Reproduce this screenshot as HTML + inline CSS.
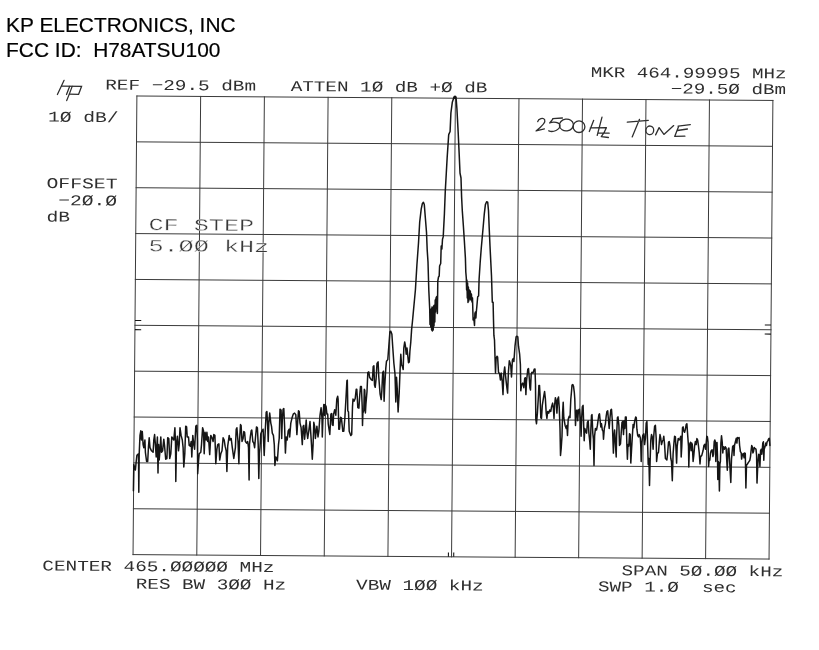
<!DOCTYPE html>
<html><head><meta charset="utf-8"><title>Spectrum plot</title>
<style>
html,body{margin:0;padding:0;background:#fff;}
body{width:819px;height:650px;position:relative;overflow:hidden;font-family:"Liberation Sans",sans-serif;}
.hd{position:absolute;left:6.1px;font-size:20.9px;line-height:25px;color:#000;white-space:pre;-webkit-text-stroke:0.2px #000}
</style></head><body>
<div id="w" style="position:absolute;left:0;top:0;width:819px;height:650px;filter:grayscale(1)">
<div class="hd" style="top:11.6px">KP ELECTRONICS, INC</div>
<div class="hd" style="top:36.7px">FCC ID:  H78ATSU100</div>
<svg width="819" height="650" viewBox="0 0 819 650" style="position:absolute;left:0;top:0">
<g stroke="#3a3a3a" stroke-width="1" fill="none" stroke-linecap="square">
<line x1="136.90" y1="96.00" x2="133.05" y2="554.60"/>
<line x1="136.90" y1="96.00" x2="772.90" y2="100.45"/>
<line x1="200.65" y1="96.44" x2="196.80" y2="555.05"/>
<line x1="136.52" y1="141.86" x2="772.51" y2="146.31"/>
<line x1="264.39" y1="96.89" x2="260.54" y2="555.49"/>
<line x1="136.13" y1="187.72" x2="772.13" y2="192.17"/>
<line x1="328.10" y1="97.33" x2="324.25" y2="555.94"/>
<line x1="135.75" y1="233.58" x2="771.75" y2="238.03"/>
<line x1="391.78" y1="97.78" x2="387.93" y2="556.38"/>
<line x1="135.36" y1="279.44" x2="771.36" y2="283.89"/>
<line x1="455.40" y1="98.22" x2="451.55" y2="556.83"/>
<line x1="134.97" y1="325.30" x2="770.98" y2="329.75"/>
<line x1="518.98" y1="98.67" x2="515.13" y2="557.27"/>
<line x1="134.59" y1="371.16" x2="770.59" y2="375.61"/>
<line x1="582.50" y1="99.11" x2="578.65" y2="557.72"/>
<line x1="134.21" y1="417.02" x2="770.20" y2="421.47"/>
<line x1="645.99" y1="99.56" x2="642.14" y2="558.16"/>
<line x1="133.82" y1="462.88" x2="769.82" y2="467.33"/>
<line x1="709.45" y1="100.00" x2="705.60" y2="558.61"/>
<line x1="133.44" y1="508.74" x2="769.43" y2="513.19"/>
<line x1="772.90" y1="100.45" x2="769.05" y2="559.05"/>
<line x1="133.05" y1="554.60" x2="769.05" y2="559.05"/>
</g>
<g stroke="#151515" stroke-width="1.1" fill="none">
<line x1="135.02" y1="320.53" x2="141.26" y2="320.57"/>
<line x1="771.02" y1="324.98" x2="764.80" y2="324.94"/>
<line x1="134.94" y1="329.66" x2="141.19" y2="329.70"/>
<line x1="770.94" y1="334.11" x2="764.72" y2="334.06"/>
<line x1="448.40" y1="556.80" x2="448.44" y2="552.45"/>
<line x1="453.71" y1="556.84" x2="453.75" y2="552.48"/>
</g>
<path d="M133.4,490.8 L133.8,464.6 L135.4,470.0 L136.2,461.5 L136.9,455.4 L138.5,453.8 L138.8,492.3 L139.2,453.8 L140.0,435.4 L140.8,430.8 L141.5,440.0 L142.3,431.5 L143.1,444.6 L143.8,447.7 L144.9,440.0 L145.4,452.3 L146.6,461.5 L147.7,461.5 L148.5,446.2 L149.2,437.7 L150.0,447.7 L151.5,450.8 L153.1,452.3 L153.8,440.0 L154.6,434.6 L155.4,444.6 L156.2,456.9 L157.4,436.9 L158.0,473.1 L158.6,444.6 L159.2,460.0 L160.0,450.8 L160.8,436.9 L161.5,452.3 L162.6,450.8 L163.8,439.2 L164.6,446.2 L165.7,459.2 L166.9,458.5 L167.7,437.7 L168.8,438.5 L169.7,458.5 L170.8,453.8 L171.8,436.9 L173.8,440.0 L174.9,427.7 L175.5,443.1 L175.8,481.5 L176.5,444.6 L177.4,436.2 L178.5,450.8 L179.2,444.6 L180.0,427.7 L181.1,435.4 L182.3,440.0 L183.1,447.7 L183.8,466.9 L184.8,453.8 L185.7,426.2 L186.6,426.9 L187.2,436.9 L188.5,436.9 L189.2,445.4 L190.3,446.2 L191.2,441.5 L191.8,456.9 L192.8,435.4 L193.8,444.6 L194.6,449.2 L195.8,426.2 L196.8,425.4 L197.4,440.0 L197.7,473.8 L198.5,461.5 L199.2,453.8 L200.8,452.3 L201.5,444.6 L202.6,427.7 L203.5,430.8 L204.2,453.8 L205.1,432.3 L206.2,440.0 L206.9,432.3 L207.7,441.5 L208.5,436.9 L209.7,454.6 L210.8,435.4 L212.3,438.5 L213.1,441.5 L213.8,434.6 L214.9,435.4 L215.8,463.8 L216.9,449.2 L217.7,444.6 L218.9,443.8 L219.7,460.0 L220.8,453.8 L222.0,450.8 L223.1,437.7 L224.2,440.0 L225.1,446.2 L226.2,450.8 L226.9,471.5 L227.7,446.2 L229.2,435.4 L230.0,440.0 L231.2,438.5 L232.3,447.7 L233.8,458.5 L235.4,447.7 L236.2,429.2 L236.9,427.7 L238.0,441.5 L238.9,463.8 L239.5,441.5 L240.5,424.6 L241.1,425.4 L242.0,441.5 L243.1,438.5 L243.8,431.5 L244.6,432.3 L245.4,441.5 L246.6,443.1 L247.7,441.5 L248.5,447.7 L249.1,480.0 L249.5,444.6 L250.3,436.9 L251.2,430.8 L251.8,430.0 L252.8,441.5 L253.8,443.1 L254.6,447.7 L255.4,438.5 L256.5,426.9 L257.4,427.7 L258.2,444.6 L258.8,478.5 L259.4,453.8 L260.0,447.7 L260.8,433.8 L262.0,430.8 L263.1,429.2 L264.2,455.4 L265.1,433.8 L266.2,412.3 L266.9,411.5 L267.7,426.2 L268.2,441.5 L268.8,423.1 L269.7,413.1 L270.8,423.1 L271.5,426.2 L272.3,433.1 L273.4,435.4 L274.3,444.6 L274.9,465.4 L275.8,456.9 L276.6,458.5 L277.4,460.8 L278.5,444.6 L279.2,438.5 L280.0,409.2 L281.1,410.0 L281.7,438.5 L282.3,420.0 L283.1,409.2 L283.8,408.5 L284.6,426.2 L285.4,453.1 L286.2,436.9 L287.2,440.0 L288.2,430.8 L289.2,429.2 L289.7,436.9 L290.8,423.1 L292.3,416.9 L293.4,413.8 L294.6,413.1 L295.8,414.6 L296.9,434.6 L297.7,421.5 L298.5,410.8 L299.2,411.5 L300.0,423.1 L301.1,427.7 L302.3,444.6 L303.1,426.2 L303.8,425.4 L304.6,439.2 L305.4,430.8 L306.2,420.0 L306.9,432.3 L307.7,438.5 L308.8,430.8 L310.0,421.5 L310.8,433.8 L311.5,444.6 L312.3,459.2 L313.1,444.6 L313.8,422.3 L314.6,426.2 L315.4,438.5 L316.2,430.8 L316.9,426.2 L318.0,436.9 L318.9,430.8 L320.0,415.4 L321.1,407.7 L322.0,418.5 L322.3,436.9 L323.1,413.8 L323.8,404.6 L324.6,415.4 L325.0,404.4 L326.1,406.5 L326.9,414.1 L327.7,414.1 L328.2,423.8 L329.8,434.5 L330.9,414.1 L331.7,413.5 L332.3,424.8 L333.1,425.4 L333.6,414.1 L334.7,409.8 L335.8,415.2 L336.8,399.0 L337.7,396.3 L338.1,399.0 L338.8,429.2 L339.5,429.2 L340.6,417.3 L341.4,417.8 L342.8,431.3 L343.8,431.3 L344.9,417.3 L346.0,397.9 L346.9,380.7 L347.3,380.2 L347.6,395.8 L347.8,410.8 L348.5,411.9 L349.2,431.3 L350.8,435.6 L351.7,434.5 L352.5,406.5 L353.0,399.0 L354.1,401.2 L355.2,398.5 L356.2,389.3 L356.8,389.3 L357.3,397.9 L357.8,407.6 L358.9,408.2 L359.7,395.8 L360.5,386.6 L361.4,386.6 L362.2,406.5 L362.5,425.4 L362.9,413.0 L363.8,410.8 L364.3,389.3 L364.8,390.4 L365.4,413.0 L365.9,404.4 L367.0,391.5 L367.8,372.7 L368.8,371.9 L369.6,377.3 L371.2,379.6 L372.4,380.4 L373.2,366.5 L373.9,365.8 L374.5,385.0 L375.2,387.3 L376.1,378.8 L377.0,363.5 L378.1,361.9 L378.8,377.3 L380.1,394.2 L381.2,399.6 L381.9,389.6 L382.7,372.7 L383.5,371.2 L384.1,401.2 L384.7,386.5 L385.8,368.1 L386.5,361.2 L387.8,359.6 L388.8,346.5 L389.9,331.9 L390.8,331.2 L391.9,334.2 L392.7,346.5 L393.9,363.5 L395.0,374.2 L395.8,401.9 L396.5,377.3 L397.3,389.6 L398.1,411.9 L399.2,392.7 L400.1,369.6 L400.8,354.2 L401.6,365.0 L402.4,366.5 L403.2,369.6 L403.8,348.1 L404.7,341.9 L405.5,346.5 L406.2,354.2 L407.0,348.1 L407.8,355.8 L408.5,362.7 L409.3,361.9 L409.9,351.2 L410.8,341.9 L411.6,329.6 L412.4,322.0 L413.1,314.6 L415.4,290.0 L416.9,265.0 L418.5,243.0 L419.7,222.0 L421.2,209.2 L422.3,203.8 L423.4,202.3 L424.3,204.6 L425.4,218.5 L426.5,232.3 L427.2,250.0 L428.0,262.0 L428.8,290.0 L429.7,308.8 L430.0,324.5 L430.4,311.0 L430.8,327.0 L431.2,309.0 L431.6,330.0 L432.0,307.0 L432.4,331.0 L432.8,308.0 L433.2,330.0 L433.6,306.0 L434.0,326.0 L434.4,305.0 L434.8,322.0 L435.2,300.0 L435.6,312.0 L436.0,298.0 L436.7,296.5 L437.4,313.4 L437.8,281.0 L438.5,277.0 L439.2,276.0 L439.6,266.0 L440.7,263.5 L441.2,246.0 L441.9,249.0 L442.5,239.2 L443.2,236.9 L444.4,214.0 L445.3,190.8 L446.3,173.0 L447.2,157.0 L448.7,134.6 L450.1,131.5 L450.9,113.0 L452.3,102.3 L453.8,97.7 L454.9,96.9 L456.2,99.2 L456.9,108.5 L458.2,133.0 L459.2,154.6 L460.0,173.0 L461.0,178.0 L461.6,197.0 L462.3,210.8 L463.4,226.2 L464.3,240.0 L465.4,258.0 L465.8,272.0 L466.3,278.0 L466.6,290.0 L466.9,280.0 L467.3,298.0 L467.6,283.0 L468.0,302.5 L468.4,287.0 L468.8,301.0 L469.3,290.0 L469.9,299.0 L470.3,291.0 L470.9,300.0 L471.4,294.0 L472.0,302.0 L472.5,298.0 L473.1,319.9 L473.8,318.0 L474.5,325.4 L474.9,313.4 L475.4,312.0 L475.9,318.0 L476.3,312.0 L476.8,307.0 L477.7,296.8 L478.6,296.0 L479.1,279.2 L480.2,262.0 L481.3,247.7 L482.0,240.0 L483.1,227.7 L484.3,213.8 L485.4,204.6 L486.6,201.8 L487.7,202.3 L488.5,210.8 L489.2,228.0 L490.0,246.0 L491.5,276.0 L492.3,302.3 L493.1,302.3 L493.5,320.0 L493.9,335.4 L494.5,340.0 L495.0,356.9 L495.5,373.1 L496.1,358.5 L497.0,356.2 L497.6,356.9 L498.5,372.3 L499.6,373.8 L500.4,380.0 L501.2,373.1 L502.2,381.5 L503.0,394.6 L503.8,373.8 L504.7,366.9 L505.5,375.4 L506.5,384.6 L507.6,393.1 L508.4,372.3 L509.3,360.8 L510.1,363.1 L510.8,366.2 L511.5,376.9 L512.4,360.0 L513.2,358.5 L513.9,361.5 L515.0,346.2 L516.1,336.9 L517.0,336.2 L517.8,336.9 L518.5,346.2 L519.6,353.8 L520.4,364.6 L520.8,390.8 L521.6,384.6 L522.7,383.1 L523.8,387.7 L524.7,378.5 L525.3,377.7 L525.9,394.6 L526.5,381.5 L527.8,369.2 L528.5,368.5 L529.3,378.5 L529.9,387.7 L530.5,390.0 L531.2,373.8 L531.9,372.3 L533.0,373.1 L534.2,369.2 L535.0,368.9 L535.5,384.6 L535.8,419.2 L536.5,423.8 L537.4,413.1 L538.5,394.6 L538.9,385.4 L539.5,385.4 L540.0,394.6 L540.8,417.7 L541.5,418.5 L542.3,405.4 L543.5,397.7 L544.6,391.5 L545.4,399.2 L546.2,413.1 L546.9,418.5 L547.7,411.5 L548.8,413.1 L549.7,410.0 L550.8,411.5 L551.5,406.9 L552.6,403.1 L553.4,408.5 L554.0,418.5 L554.6,405.4 L555.4,397.7 L556.2,400.8 L556.9,413.1 L557.7,399.2 L558.5,396.9 L559.2,406.9 L560.0,428.5 L560.5,455.4 L561.2,448.5 L562.0,436.2 L562.6,413.1 L563.2,402.3 L563.8,417.7 L565.1,425.4 L566.2,428.5 L566.9,425.4 L567.5,435.4 L568.2,419.2 L569.2,416.2 L570.0,417.7 L570.8,399.2 L571.5,391.5 L572.0,385.1 L572.8,384.5 L573.5,386.2 L574.3,392.3 L574.8,399.2 L575.1,410.0 L575.5,425.4 L576.2,411.5 L576.9,410.0 L577.7,420.8 L578.5,410.0 L579.5,409.2 L580.5,420.8 L581.1,436.2 L581.7,417.7 L582.3,406.9 L583.1,405.4 L583.8,428.5 L584.2,440.8 L584.8,428.5 L585.7,431.5 L586.6,433.1 L587.4,422.3 L588.2,420.8 L588.9,433.1 L589.7,440.8 L590.3,449.2 L590.9,428.5 L591.5,415.4 L592.0,414.6 L592.8,433.1 L593.4,439.2 L594.0,465.4 L594.6,436.2 L595.4,428.5 L596.5,430.0 L597.4,425.4 L598.0,420.8 L598.9,414.6 L599.5,413.8 L600.2,420.8 L600.8,426.9 L601.5,423.8 L602.3,430.0 L603.1,431.5 L603.5,439.2 L604.3,428.5 L605.4,423.8 L606.2,416.2 L606.9,411.5 L607.7,410.8 L608.5,420.8 L609.2,428.5 L610.0,417.7 L610.8,410.0 L611.5,409.2 L612.3,420.8 L612.8,436.2 L613.4,453.1 L614.0,436.2 L614.6,430.0 L615.4,443.8 L616.2,456.9 L616.6,436.2 L617.4,417.7 L618.0,416.9 L618.9,425.4 L619.5,445.4 L620.5,443.8 L621.2,433.1 L622.0,422.3 L622.8,421.5 L623.5,434.6 L624.2,420.8 L624.8,428.5 L625.4,416.9 L626.2,416.9 L626.9,446.2 L627.4,459.2 L628.0,444.6 L628.8,446.2 L629.5,433.8 L630.2,434.6 L630.8,463.1 L631.5,450.8 L632.3,436.9 L633.1,424.6 L633.8,427.7 L634.6,421.5 L635.7,416.9 L636.3,417.7 L636.9,429.2 L637.7,435.4 L638.5,436.9 L639.2,434.6 L640.3,437.7 L640.8,446.2 L641.2,461.5 L641.8,443.1 L642.8,435.4 L643.8,433.8 L644.6,444.6 L645.4,438.5 L646.2,423.1 L646.9,421.5 L647.7,446.2 L648.2,464.6 L648.9,458.5 L649.5,485.4 L650.2,458.5 L650.8,440.0 L651.5,434.6 L652.3,436.9 L653.1,449.2 L653.8,435.4 L654.6,426.2 L655.4,425.4 L656.2,438.5 L656.6,461.5 L657.4,453.8 L658.5,452.3 L659.2,443.1 L660.0,434.6 L660.8,438.5 L661.5,444.6 L662.3,441.5 L663.1,440.0 L663.8,436.2 L664.6,444.6 L665.4,458.5 L666.2,459.2 L666.9,460.0 L667.7,452.3 L668.5,442.3 L669.2,441.5 L670.0,446.2 L670.8,458.5 L671.5,461.5 L672.3,480.8 L673.1,453.8 L673.8,444.6 L674.6,436.2 L675.4,436.9 L676.0,449.2 L676.6,463.1 L677.2,446.2 L678.2,438.5 L679.2,440.0 L680.0,438.5 L680.8,436.2 L681.2,456.9 L681.8,446.2 L682.5,427.7 L683.1,426.9 L683.8,430.8 L684.6,432.3 L685.4,429.2 L686.2,424.6 L686.9,423.8 L687.7,435.4 L688.5,446.2 L688.8,466.9 L689.5,444.6 L690.5,442.3 L691.1,450.8 L691.7,443.1 L692.3,444.6 L693.1,461.5 L693.8,455.4 L694.6,446.2 L695.4,441.5 L696.2,444.6 L696.9,438.5 L697.7,440.0 L698.5,446.2 L699.2,452.3 L700.0,464.0 L700.6,456.6 L701.8,455.4 L703.1,450.5 L703.9,445.5 L704.9,444.3 L705.5,449.2 L706.2,443.1 L706.8,436.3 L707.4,436.9 L708.0,441.8 L708.6,466.5 L709.2,459.1 L709.8,460.3 L710.5,452.9 L711.3,450.5 L712.1,449.8 L712.9,456.6 L713.5,454.2 L714.2,441.8 L714.8,440.0 L715.4,441.8 L715.8,461.5 L716.2,443.1 L717.0,442.5 L717.5,456.6 L717.8,479.4 L718.3,461.5 L718.8,462.8 L719.4,491.1 L719.9,464.0 L720.4,461.5 L720.9,443.1 L721.5,435.7 L722.2,441.8 L722.8,452.9 L723.4,446.8 L724.4,449.2 L725.2,446.8 L726.1,448.0 L726.8,461.5 L727.3,470.2 L728.1,449.2 L728.9,448.0 L729.5,459.1 L730.8,482.5 L731.5,459.1 L732.6,446.8 L733.5,445.5 L734.0,455.4 L734.5,445.5 L735.4,441.8 L736.3,438.2 L736.9,443.1 L737.5,437.5 L738.4,438.2 L739.1,437.5 L739.6,445.5 L740.4,451.7 L741.2,452.9 L741.6,459.1 L742.5,454.2 L743.3,453.5 L744.1,457.8 L744.6,452.9 L745.3,453.5 L745.5,464.0 L745.9,488.0 L746.5,465.2 L747.4,464.0 L748.6,462.2 L749.8,460.3 L750.5,456.6 L751.1,450.5 L751.7,445.5 L752.3,446.8 L752.9,452.9 L753.5,451.7 L754.2,447.4 L755.1,448.6 L756.0,449.2 L756.6,455.4 L757.0,483.1 L757.6,468.9 L758.1,460.3 L758.8,454.2 L759.4,456.6 L759.9,466.5 L760.6,450.5 L761.3,449.2 L761.8,454.2 L762.3,449.2 L762.8,443.1 L763.4,441.8 L763.8,460.3 L764.2,449.2 L765.0,446.8 L765.8,443.1 L766.5,445.5 L767.1,441.8 L767.9,440.6 L768.7,438.8 L769.3,438.2 L769.9,445.5" fill="none" stroke="#151515" stroke-width="1.5" stroke-linejoin="round" stroke-linecap="round"/>
<circle cx="455.0" cy="97.3" r="1.7" fill="#151515"/>
<text xml:space="preserve" transform="translate(105.25,89.50) rotate(0.4) scale(1.2889,1)" font-family="Liberation Mono, monospace" font-size="15.0" fill="#2e2e2e" stroke="#fff" stroke-width="0">REF −29.5 dBm</text>
<text xml:space="preserve" transform="translate(290.65,91.00) rotate(0.4) scale(1.2867,1)" font-family="Liberation Mono, monospace" font-size="15.0" fill="#2e2e2e" stroke="#fff" stroke-width="0">ATTEN 1Ø dB +Ø dB</text>
<text xml:space="preserve" transform="translate(590.66,77.00) rotate(0.4) scale(1.2811,1)" font-family="Liberation Mono, monospace" font-size="15.0" fill="#2e2e2e" stroke="#fff" stroke-width="0">MKR 464.99995 MHz</text>
<text xml:space="preserve" transform="translate(670.76,93.40) rotate(0.4) scale(1.2811,1)" font-family="Liberation Mono, monospace" font-size="15.0" fill="#2e2e2e" stroke="#fff" stroke-width="0">−29.5Ø dBm</text>
<text xml:space="preserve" transform="translate(48.03,121.60) rotate(0.4) scale(1.3056,1)" font-family="Liberation Mono, monospace" font-size="15.0" fill="#2e2e2e" stroke="#fff" stroke-width="0">1Ø dB/</text>
<text xml:space="preserve" transform="translate(46.52,188.00) rotate(0.4) scale(1.3167,1)" font-family="Liberation Mono, monospace" font-size="15.0" fill="#2e2e2e" stroke="#fff" stroke-width="0">OFFSET</text>
<text xml:space="preserve" transform="translate(46.53,205.00) rotate(0.4) scale(1.3056,1)" font-family="Liberation Mono, monospace" font-size="15.0" fill="#2e2e2e" stroke="#fff" stroke-width="0"> −2Ø.Ø</text>
<text xml:space="preserve" transform="translate(46.53,221.40) rotate(0.4) scale(1.3056,1)" font-family="Liberation Mono, monospace" font-size="15.0" fill="#2e2e2e" stroke="#fff" stroke-width="0">dB</text>
<text xml:space="preserve" transform="translate(148.41,230.10) rotate(0.4) scale(1.4804,1)" font-family="Liberation Mono, monospace" font-size="17.0" fill="#383838" stroke="#fff" stroke-width="0.35">CF STEP</text>
<text xml:space="preserve" transform="translate(148.41,251.30) rotate(0.4) scale(1.4804,1)" font-family="Liberation Mono, monospace" font-size="17.0" fill="#383838" stroke="#fff" stroke-width="0.35">5.ØØ kHz</text>
<text xml:space="preserve" transform="translate(42.35,570.40) rotate(0.4) scale(1.2900,1)" font-family="Liberation Mono, monospace" font-size="15.0" fill="#2e2e2e" stroke="#fff" stroke-width="0">CENTER 465.ØØØØØ MHz</text>
<text xml:space="preserve" transform="translate(135.75,588.60) rotate(0.4) scale(1.2867,1)" font-family="Liberation Mono, monospace" font-size="15.0" fill="#2e2e2e" stroke="#fff" stroke-width="0">RES BW 3ØØ Hz</text>
<text xml:space="preserve" transform="translate(356.05,589.60) rotate(0.4) scale(1.2889,1)" font-family="Liberation Mono, monospace" font-size="15.0" fill="#2e2e2e" stroke="#fff" stroke-width="0">VBW 1ØØ kHz</text>
<text xml:space="preserve" transform="translate(621.56,575.20) rotate(0.4) scale(1.2833,1)" font-family="Liberation Mono, monospace" font-size="15.0" fill="#2e2e2e" stroke="#fff" stroke-width="0">SPAN 5Ø.ØØ kHz</text>
<text xml:space="preserve" transform="translate(597.96,591.30) rotate(0.4) scale(1.2833,1)" font-family="Liberation Mono, monospace" font-size="15.0" fill="#2e2e2e" stroke="#fff" stroke-width="0">SWP 1.Ø  sec</text>
<g stroke="#2c2c2c" stroke-width="1.25" fill="none" stroke-linecap="round" stroke-linejoin="miter"><path d="M64.1,80.3 L57.4,94.5"/><path d="M61.5,86.1 L81.6,86.3 L78.6,94.3 L69.3,94.1"/><path d="M69.7,86.3 L66.5,94.5"/><path d="M72.2,86.4 L69.3,94.1 L66.7,100.6"/></g>
<g fill="none" stroke="#2e2e2e" stroke-width="1.3" stroke-linecap="round" stroke-linejoin="round"><path d="M537.7,121.6 C538.4,118.8 543.2,117.2 544.7,119.8 C546.0,122.6 540.4,127.6 536.0,130.9 L544.4,128.8 M552.7,118.7 L562.4,118.0 M553.2,118.7 L549.7,123.0 C553.1,121.4 559.7,121.9 560.0,125.6 C560.0,129.6 553.1,132.9 548.8,130.8 M593.7,120.3 L589.3,131.5 M602.0,117.1 L597.2,135.4 M590.3,127.9 L606.4,127.6 L604.0,132.7 L601.3,136.6 L608.4,137.5 M597.9,133.1 L609.2,133.2 M627.3,122.2 L648.3,120.3 M639.5,119.3 L632.2,136.9 M655.6,134.9 L659.1,127.6 L663.9,134.4 L673.7,125.6 M678.6,126.4 L674.7,136.4 L684.9,136.2 M678.1,126.1 L690.3,124.6 M677.4,130.5 L687.4,129.0"/><ellipse cx="566.4" cy="125.0" rx="7.0" ry="5.9" transform="rotate(-8 566.4 125.0)"/><ellipse cx="579.0" cy="126.7" rx="5.9" ry="5.8" transform="rotate(0 579.0 126.7)"/><ellipse cx="649.8" cy="130.3" rx="3.9" ry="4.3" transform="rotate(8 649.8 130.3)"/></g>
</svg>
</div>
</body></html>
